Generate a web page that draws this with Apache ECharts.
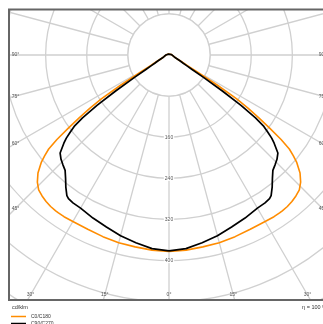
<!DOCTYPE html>
<html>
<head>
<meta charset="utf-8">
<script src="https://cdn.jsdelivr.net/npm/echarts@6/dist/echarts.min.js"></script>
<style>
  html, body { margin: 0; padding: 0; background: #fff; }
  #chart { width: 323px; height: 324px; }
</style>
</head>
<body>
<div id="chart"></div>
<script>
// gamma angle from nadir (deg) and luminous intensity (cd/klm)
const gammaAngles = [0, 5, 10, 15, 20, 25, 30, 33, 35, 36, 38, 40, 42, 44, 46, 48, 50, 51, 52, 53, 54, 55, 56, 57, 58, 59, 60, 62, 65, 70, 75, 80, 85, 90, 100, 120, 150, 180];
const c0c180 = [382, 381, 379, 378, 376, 374, 374, 375, 375, 375, 374, 372, 369, 365, 356, 343, 324, 311, 297, 273, 242, 214, 186, 157, 112, 65, 44, 27, 16, 11, 9, 7, 6, 6, 5, 3, 2, 2];
const c90c270 = [381, 378, 371, 364, 356, 350, 344, 343, 341, 338, 326, 313, 302, 297, 292, 285, 267, 257, 244, 231, 208, 171, 126, 80, 53, 40, 32, 24, 17, 11, 9, 7, 6, 6, 5, 3, 2, 2];

const ringMax = 640;
const innerRing = 80;
const sideAngleLabels = [90, 75, 60, 45];
const bottomAngleLabels = [30, 15, 0];
const seriesNames = ['C0/C180', 'C90/C270'];

const FONT = 'Liberation Sans, Arial, sans-serif';
const GRID = '#d0d0d0';

// left half goes with gamma, right half mirrored (360 - gamma)
function loop(values) {
  const pts = gammaAngles.map((g, i) => [values[i], g]);
  for (let i = gammaAngles.length - 1; i >= 0; i--) {
    pts.push([values[i], 360 - gammaAngles[i]]);
  }
  return pts;
}

const chart = echarts.init(document.getElementById('chart'));

const legendText = { fontSize: 5, fontFamily: FONT, color: '#333' };

const option = {
  animation: false,
  polar: {
    center: [169, 55],
    radius: 329
  },
  angleAxis: {
    type: 'value',
    min: 0,
    max: 360,
    interval: 15,
    startAngle: 270,
    clockwise: true,
    axisLine: { show: false },
    axisTick: { show: false },
    axisLabel: { show: false },
    splitLine: { show: true, lineStyle: { color: GRID, width: 1.3 } }
  },
  radiusAxis: {
    type: 'value',
    min: 0,
    max: ringMax,
    interval: 80,
    axisLine: { show: false },
    axisTick: { show: false },
    axisLabel: {
      margin: 0,
      align: 'center',
      verticalAlign: 'middle',
      fontSize: 5,
      fontFamily: FONT,
      color: '#555',
      backgroundColor: '#fff',
      padding: [0, 1],
      formatter: v => (v <= innerRing ? '' : String(v))
    },
    splitLine: { show: true, lineStyle: { color: GRID, width: 1.3 } }
  },
  legend: [
    {
      z: 100, left: 11, top: 314, padding: 0, icon: 'rect', itemWidth: 15, itemHeight: 1.5,
      textStyle: legendText, data: [seriesNames[0]]
    },
    {
      z: 100, left: 11, top: 321, padding: 0, icon: 'rect', itemWidth: 15, itemHeight: 1.5,
      textStyle: legendText, data: [seriesNames[1]]
    }
  ],
  series: [
    {
      name: seriesNames[0],
      type: 'line',
      coordinateSystem: 'polar',
      symbol: 'none',
      color: '#ff8c00',
      lineStyle: { color: '#ff8c00', width: 1.6 },
      data: loop(c0c180)
    },
    {
      name: seriesNames[1],
      type: 'line',
      coordinateSystem: 'polar',
      symbol: 'none',
      color: '#000',
      lineStyle: { color: '#000', width: 1.7 },
      data: loop(c90c270)
    }
  ]
};

chart.setOption(option);

// frame, white surroundings and gamma labels where the rays meet the frame
const toPx = p => chart.convertToPixel({ seriesIndex: 0 }, p);
const centre = toPx([0, 0]);
const innerR = centre[1] - toPx([innerRing, 180])[1];
const labelX = 15.5;
const labelY = 295;

function rayAt(angle, fixX, fixY) {
  const a = toPx([160, angle]);
  const b = toPx([480, angle]);
  if (fixX != null) {
    const t = (fixX - a[0]) / (b[0] - a[0]);
    return [fixX, a[1] + t * (b[1] - a[1])];
  }
  const t = (fixY - a[1]) / (b[1] - a[1]);
  return [a[0] + t * (b[0] - a[0]), fixY];
}

function label(pos, text) {
  return {
    type: 'text', z: 60, x: pos[0], y: pos[1],
    style: { text: text, fontSize: 5, fontFamily: FONT, fill: '#555', align: 'center', verticalAlign: 'middle' }
  };
}

const elements = [
  // hide the rays inside the innermost ring, under the curves
  { type: 'circle', z: 1, shape: { cx: centre[0], cy: centre[1], r: innerR }, style: { fill: '#fff', stroke: GRID, lineWidth: 1.3 } },
  { type: 'rect', z: 50, shape: { x: 0, y: 0, width: 323, height: 9 }, style: { fill: '#fff' } },
  { type: 'rect', z: 50, shape: { x: 0, y: 0, width: 9, height: 324 }, style: { fill: '#fff' } },
  { type: 'rect', z: 50, shape: { x: 0, y: 300, width: 323, height: 24 }, style: { fill: '#fff' } },
  { type: 'rect', z: 55, shape: { x: 9, y: 9.5, width: 320, height: 290.5 }, style: { fill: null, stroke: '#666', lineWidth: 2 } },
  { type: 'text', z: 60, x: 12, y: 307, style: { text: 'cd/klm', fontSize: 5.5, fontFamily: FONT, fill: '#333', verticalAlign: 'middle' } },
  { type: 'text', z: 60, x: 327, y: 307, style: { text: 'η = 100 %', fontSize: 5.5, fontFamily: FONT, fill: '#333', align: 'right', verticalAlign: 'middle' } }
];

sideAngleLabels.forEach(g => {
  const p = rayAt(g, labelX);
  elements.push(label(p, g + '°'));
  elements.push(label([2 * centre[0] - p[0], p[1]], g + '°'));
});
bottomAngleLabels.forEach(g => {
  const p = rayAt(g, null, labelY);
  elements.push(label(p, g + '°'));
  if (g !== 0) elements.push(label([2 * centre[0] - p[0], p[1]], g + '°'));
});

chart.setOption({ graphic: { elements: elements } });
</script>
</body>
</html>
